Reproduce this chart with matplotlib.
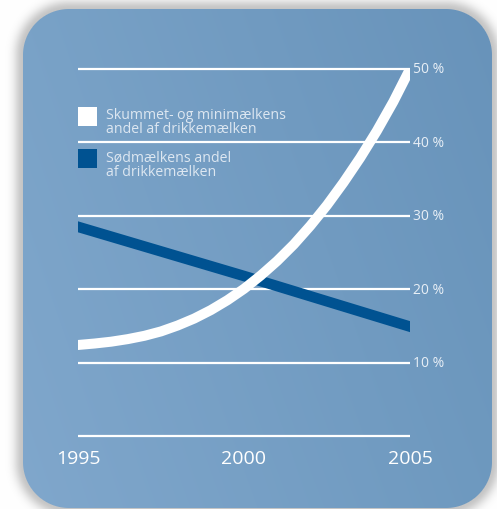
import numpy as np
import matplotlib
matplotlib.use('Agg')
import matplotlib.pyplot as plt
from matplotlib.patches import Rectangle

plt.rcParams['font.family'] = ['Open Sans', 'DejaVu Sans']

# data (half-year readings of the curve)
years_skummet = [1995, 1995.5, 1996, 1996.5, 1997, 1997.5, 1998, 1998.5, 1999, 1999.5,
                 2000, 2000.5, 2001, 2001.5, 2002, 2002.5, 2003, 2003.5, 2004, 2004.5, 2005]
skummet = [12.4, 12.6, 12.85, 13.2, 13.65, 14.25, 15.05, 16.0, 17.15, 18.5,
           20.05, 21.85, 23.85, 26.1, 28.65, 31.45, 34.55, 37.9, 41.55, 45.55, 50.0]
years_soed = [1995, 2000, 2005]
soed = [28.5, 21.8, 14.9]
grid_vals = [10, 20, 30, 40, 50]
grid_labels = ['10 %', '20 %', '30 %', '40 %', '50 %']
x_ticks = [1995, 2000, 2005]
legend_labels = ['Skummet- og minimælkens\nandel af drikkemælken',
                 'Sødmælkens andel\naf drikkemælken']

WHITE = '#ffffff'
BLUE = '#005291'
W, H = 497, 510

fig = plt.figure(figsize=(W / 100, H / 100), dpi=100)

#######################################################
# background: rounded panel with gradient + soft shadow
#######################################################
bg = fig.add_axes([0, 0, 1, 1])
yy, xx = np.mgrid[0:H, 0:W] + 0.5
x0, x1, y0, y1, r = 23, 492, 10, 509, 46
cx, cy = (x0 + x1) / 2, (y0 + y1) / 2
hx, hy = (x1 - x0) / 2 - r, (y1 - y0) / 2 - r
qx = np.abs(xx - cx) - hx
qy = np.abs(yy - cy) - hy
dist = np.hypot(np.maximum(qx, 0), np.maximum(qy, 0)) + np.minimum(np.maximum(qx, qy), 0) - r

u = (xx - x0) / (x1 - x0)
v = (yy - y0) / (y1 - y0)
tl, tr = np.array([121, 162, 199]), np.array([104, 147, 186])
bl, br = np.array([128, 167, 204]), np.array([110, 153, 191])
grad = ((1 - u)[..., None] * ((1 - v)[..., None] * tl + v[..., None] * bl)
        + u[..., None] * ((1 - v)[..., None] * tr + v[..., None] * br)) / 255

shadow = 0.30 * np.exp(-(np.maximum(dist, 0) / 9.0) ** 2)
outside = np.ones((H, W, 3)) * (1 - shadow[..., None] * 0.75)
inside = np.clip(0.5 - dist, 0, 1)[..., None]
img = inside * grad + (1 - inside) * outside
bg.imshow(img, extent=(0, W, H, 0), interpolation='bilinear')
bg.set_xlim(0, W)
bg.set_ylim(H, 0)
bg.axis('off')

#######################################################
# data axes
#######################################################
ax = fig.add_axes([78 / W, (H - 437) / H, (410 - 78) / W, (437 - 70) / H])
ax.patch.set_alpha(0)
ax.set_xlim(1995, 2005)
ax.set_ylim(0, 50)
ax.axis('off')

for val in [0] + grid_vals:
    ax.plot([1995, 2005], [val, val], color=WHITE, lw=1.6,
            solid_capstyle='butt', clip_on=False, zorder=1)

for val, lab in zip(grid_vals, grid_labels):
    ax.annotate(lab, (2005, val), xytext=(3, 0), textcoords='offset pixels',
                ha='left', va='center', fontsize=10, color='#e8eff6',
                annotation_clip=False)

for yr in x_ticks:
    ax.annotate(str(yr), (yr, 0), xytext=(0, -22), textcoords='offset pixels',
                ha='center', va='center', fontsize=14, color=WHITE,
                annotation_clip=False)

ax.plot(years_soed, soed, color=BLUE, lw=7.6, solid_capstyle='projecting', zorder=3)
ax.plot(years_skummet, skummet, color=WHITE, lw=7.2, solid_capstyle='projecting',
        solid_joinstyle='round', zorder=4)

#######################################################
# legend (drawn by hand in pixel coords)
#######################################################
for (sq_y, txt_y), col, lab in zip([(108, 108), (150, 151)], [WHITE, BLUE], legend_labels):
    bg.add_patch(Rectangle((78, sq_y), 19, 19, facecolor=col, edgecolor='none'))
    bg.text(106, txt_y, lab, ha='left', va='top', fontsize=10.2,
            color='#dde7f1', linespacing=0.95)

fig.savefig('out.png', dpi=100)
plt.close(fig)
